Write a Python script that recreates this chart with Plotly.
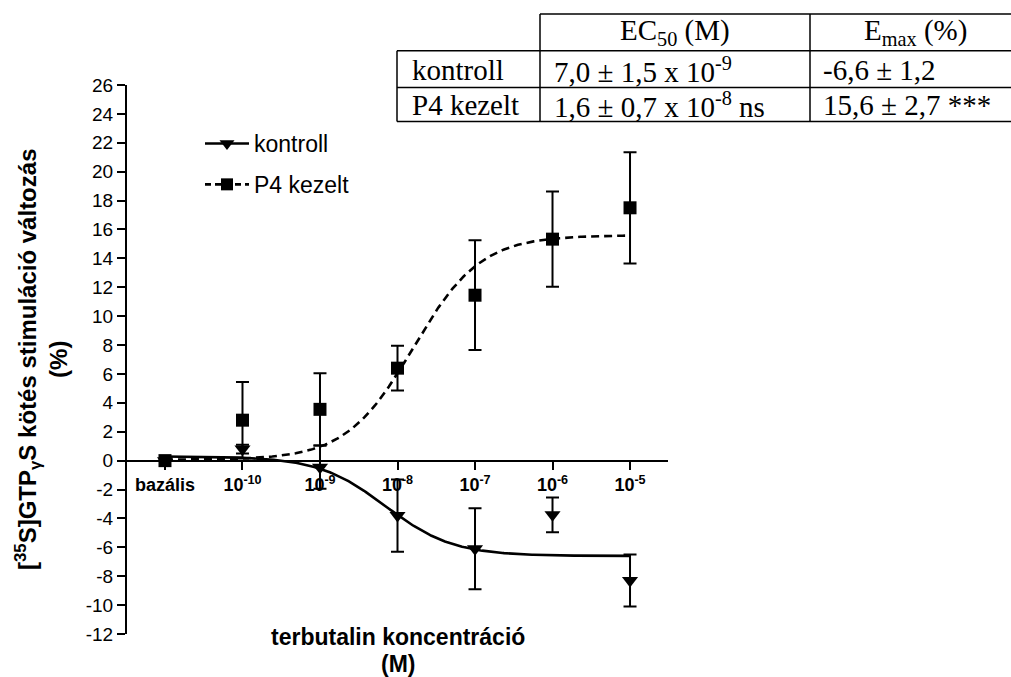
import numpy as np
import plotly.graph_objects as go

# ---- data -------------------------------------------------------------
# log10 terbutaline concentration; basal (no agonist) is placed at -11
log_conc = [-11, -10, -9, -8, -7, -6, -5]
tick_labels = ["bazális", "10<sup>-10</sup>", "10<sup>-9</sup>", "10<sup>-8</sup>",
               "10<sup>-7</sup>", "10<sup>-6</sup>", "10<sup>-5</sup>"]

kontroll_mean = [0.0, 0.8, -0.45, -3.8, -6.1, -3.75, -8.3]
kontroll_sem = [0.0, 0.3, 1.5, 2.5, 2.8, 1.2, 1.8]

p4_mean = [0.0, 2.8, 3.55, 6.4, 11.45, 15.33, 17.5]
p4_sem = [0.0, 2.65, 2.5, 1.55, 3.8, 3.3, 3.85]

# sigmoid fit parameters (bottom, Emax, log EC50)
kontroll_fit = {"bottom": 0.3, "top": -6.6, "logec50": np.log10(7.0e-9)}
p4_fit = {"bottom": 0.05, "top": 15.6, "logec50": np.log10(1.6e-8)}

y_ticks = list(range(-12, 27, 2))
y_tick_labels = [str(v) for v in y_ticks]

table_header = ["EC<sub>50</sub> (M)", "E<sub>max</sub> (%)"]
table_rows = ["kontroll", "P4 kezelt"]
table_ec50 = ["7,0 ± 1,5 x 10<sup>-9</sup>", "1,6 ± 0,7 x 10<sup>-8</sup> ns"]
table_emax = ["-6,6 ± 1,2", "15,6 ± 2,7 ***"]

# ---- layout geometry (pixels) -----------------------------------------
W, H = 1011, 677
L, R, T, B = 127, 668, 85, 634


def px(x):
    return (x - L) / (R - L)


def py(y):
    return (B - y) / (B - T)


SANS = "Arial, Liberation Sans, sans-serif"
SERIF = "Times New Roman, Liberation Serif, serif"


def sigmoid(x, p):
    return p["bottom"] + (p["top"] - p["bottom"]) / (1 + 10 ** (p["logec50"] - x))


xs = np.linspace(log_conc[0], log_conc[-1], 300)

fig = go.Figure()

# fitted curves
fig.add_trace(go.Scatter(x=xs, y=sigmoid(xs, kontroll_fit), mode="lines",
                         line=dict(color="black", width=2.6), showlegend=False,
                         hoverinfo="skip"))
fig.add_trace(go.Scatter(x=xs, y=sigmoid(xs, p4_fit), mode="lines",
                         line=dict(color="black", width=2.6, dash="8px,5px"),
                         showlegend=False, hoverinfo="skip"))

# measured points with SEM
err_style = dict(type="data", visible=True, color="black", thickness=2, width=6.5)
fig.add_trace(go.Scatter(x=log_conc, y=kontroll_mean, mode="markers",
                         marker=dict(symbol="triangle-down", size=14, color="black"),
                         error_y=dict(array=kontroll_sem, **err_style),
                         showlegend=False))
fig.add_trace(go.Scatter(x=log_conc, y=p4_mean, mode="markers",
                         marker=dict(symbol="square", size=13, color="black"),
                         error_y=dict(array=p4_sem, **err_style),
                         showlegend=False))

# legend entries
fig.add_trace(go.Scatter(x=[None], y=[None], mode="lines+markers", name="kontroll",
                         legendgroup="a",
                         line=dict(color="black", width=2.6),
                         marker=dict(symbol="triangle-down", size=13, color="black")))
fig.add_trace(go.Scatter(x=[None], y=[None], mode="lines+markers", name="P4 kezelt",
                         legendgroup="b",
                         line=dict(color="black", width=2.6, dash="6px,4px"),
                         marker=dict(symbol="square", size=12, color="black")))

shapes = []


def hline(y, x0, x1):
    shapes.append(dict(type="line", xref="paper", yref="paper",
                       x0=px(x0), x1=px(x1), y0=py(y), y1=py(y),
                       line=dict(color="black", width=1.5)))


def vline(x, y0, y1):
    shapes.append(dict(type="line", xref="paper", yref="paper",
                       x0=px(x), x1=px(x), y0=py(y0), y1=py(y1),
                       line=dict(color="black", width=1.5)))


# table grid
hline(14, 540, 1012)
hline(50.7, 397, 1012)
hline(87.5, 397, 1012)
hline(121.5, 397, 1012)
vline(397, 50.7, 121.5)
vline(540, 14, 121.5)
vline(810, 14, 121.5)

annotations = []


def txt(text, x, y, size, family, xanchor="left", angle=0, weight="normal"):
    annotations.append(dict(text=text, x=px(x), y=py(y), xref="paper", yref="paper",
                            xanchor=xanchor, yanchor="middle", showarrow=False,
                            textangle=angle,
                            font=dict(size=size, family=family, color="black",
                                      weight=weight)))


TS = 29
txt(table_header[0], 675, 32, TS, SERIF, "center")
txt(table_header[1], 915, 32, TS, SERIF, "center")
row_y = [70, 105]
for i in range(2):
    txt(table_rows[i], 410, row_y[i], TS, SERIF)
    txt(table_ec50[i], 552, row_y[i], TS, SERIF)
    txt(table_emax[i], 821, row_y[i], TS, SERIF)

# axis titles
txt("[<sup>35</sup>S]GTP<sub>γ</sub>S kötés stimuláció változás<br>(%)",
    41, 360, 24, SANS, "center", angle=-90, weight="bold")
txt("terbutalin koncentráció", 398, 637, 23, SANS, "center", weight="bold")
txt("(M)", 398, 664, 23, SANS, "center", weight="bold")

fig.update_layout(
    width=W, height=H,
    margin=dict(l=L, r=W - R, t=T, b=H - B),
    paper_bgcolor="white", plot_bgcolor="white",
    showlegend=True,
    legend=dict(x=px(200), y=py(122), xanchor="left", yanchor="top",
                font=dict(size=23, family=SANS, color="black"),
                bgcolor="rgba(0,0,0,0)", tracegroupgap=8, itemwidth=44),
    shapes=shapes, annotations=annotations,
)

fig.update_xaxes(range=[-11.49, -4.51], anchor="free",
                 position=(0 - y_ticks[0]) / (y_ticks[-1] - y_ticks[0]),
                 showline=True, linecolor="black", linewidth=2,
                 ticks="outside", ticklen=8, tickwidth=2, tickcolor="black",
                 tickvals=log_conc, ticktext=tick_labels,
                 tickfont=dict(size=18, family=SANS, color="black", weight="bold"),
                 showgrid=False, zeroline=False)
fig.update_yaxes(range=[y_ticks[0], y_ticks[-1]],
                 showline=True, linecolor="black", linewidth=2,
                 ticks="outside", ticklen=8, tickwidth=2, tickcolor="black",
                 tickvals=y_ticks, ticktext=y_tick_labels,
                 tickfont=dict(size=19, family=SANS, color="black"),
                 showgrid=False, zeroline=False)

fig.write_html("out.html")
